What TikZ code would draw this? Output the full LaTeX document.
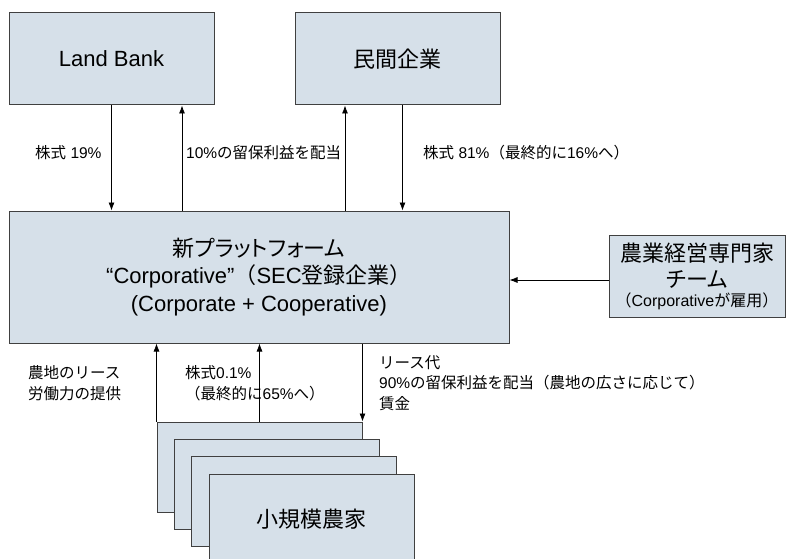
\documentclass[tikz,border=0pt]{standalone}
\usepackage{fontspec}
\setmainfont{Liberation Sans}
\newfontfamily\jp{Noto Sans CJK JP}
\newfontfamily\jpp[RawFeature={+palt}]{Noto Sans CJK JP}
\usetikzlibrary{arrows.meta}
\definecolor{boxfill}{RGB}{214,224,233}
\definecolor{boxline}{RGB}{64,64,64}

\begin{document}
\begin{tikzpicture}[x=1pt,y=-1pt]
\tikzstyle{every node}=[inner sep=0pt]
\tikzstyle{box}=[draw=boxline,fill=boxfill,line width=1pt,align=center]
\tikzstyle{big}=[font=\fontsize{22}{27.5}\selectfont]
\tikzstyle{lbl}=[anchor=west,align=left,font=\fontsize{15.5}{20.5}\selectfont]
\tikzstyle{jlbl}=[lbl,font=\fontsize{15.5}{20.5}\selectfont\jp]
\tikzstyle{arr}=[-{Latex[length=8pt,width=6pt]},line width=0.8pt]
\useasboundingbox (0,0) rectangle (787,559);
\clip (0,0) rectangle (787,559);

\node[box,big,minimum width=205pt,minimum height=92pt] (landbank) at (111.5,59) {Land Bank};
\node[box,big,minimum width=205pt,minimum height=92pt] (minkan) at (397.5,59) {\jp 民間企業};
\node[box,big,minimum width=500pt,minimum height=132pt] (platform) at (259,277)
  {{\jpp 新プラットフォーム}\\“Corporative”{\jp （}SEC{\jp 登録企業）}\\(Corporate + Cooperative)};
\node[box,minimum width=176pt,minimum height=82pt,font=\fontsize{22}{26}\selectfont] (expert) at (697,276)
  {{\jp 農業経営専門家}\\{\jpp チーム}\\[-7pt]{\fontsize{16}{18}\selectfont{\jp （}Corporative{\jp が雇用）}}};

% small farmers, stacked
\foreach \i in {1,...,4}
  \node[box,minimum width=205pt,minimum height=90pt] (farm\i) at ({259.5+17.4*(\i-1)},{467+17.4*(\i-1)}) {};
\node[big] (farmlabel) at (farm4.center) {\jp 小規模農家};

% shares and dividends
\coordinate (lbup) at ([xshift=70.5pt]landbank.south);
\coordinate (mkup) at ([xshift=-52.5pt]minkan.south);
\coordinate (mkdown) at ([xshift=5pt]minkan.south);
\coordinate (expin) at ([yshift=-4pt]expert.west);
\draw[arr] (landbank.south) -- (landbank.south |- platform.north);
\draw[arr] (lbup |- platform.north) -- (lbup);
\draw[arr] (mkup |- platform.north) -- (mkup);
\draw[arr] (mkdown) -- (mkdown |- platform.north);
\draw[arr] (expin) -- (expin -| platform.east);
\draw[arr] (farm1.north west) -- (farm1.north west |- platform.south);
\draw[arr] (farm1.north) -- (farm1.north |- platform.south);
\draw[arr] (farm1.north east |- platform.south) -- (farm1.north east);

\node[lbl] (l19) at (35,153) {{\jp 株式} 19\%};
\node[lbl] (l10) at (186,153) {10\%{\jp の留保利益を配当}};
\node[lbl] (l81) at (423,153) {{\jp 株式} 81\%{\jp （最終的に}16\%{\jp へ）}};
\node[jlbl] (lland) at (28,383) {農地のリース\\労働力の提供};
\node[lbl] (l01) at (185,383) {{\jp 株式}0.1\%\\{\jp （最終的に}65\%{\jp へ）}};
\node[lbl] (lrent) at (379,383) {{\jp リース代}\\90\%{\jp の留保利益を配当（農地の広さに応じて）}\\{\jp 賃金}};
\end{tikzpicture}
\end{document}
